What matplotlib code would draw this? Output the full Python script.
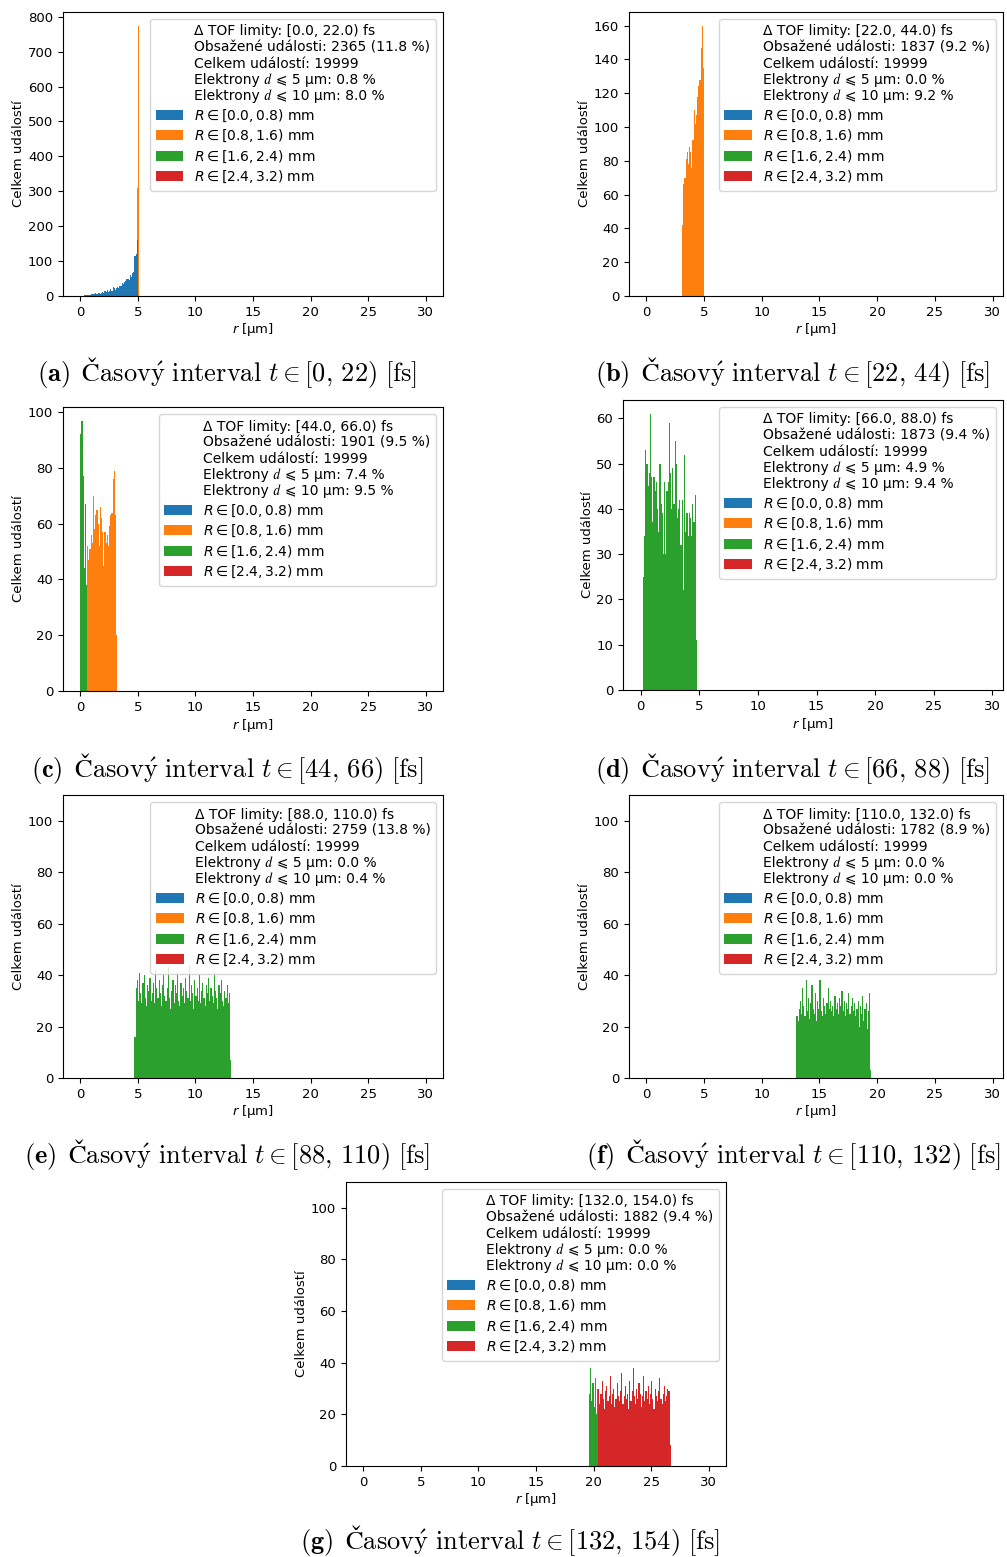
import numpy as np
import matplotlib.pyplot as plt
from matplotlib.patches import Patch

# tab10 colours for the four detector rings
ring_colors = ['#1f77b4', '#ff7f0e', '#2ca02c', '#d62728']
ring_labels = [r'$R \in [0.0, 0.8)$ mm', r'$R \in [0.8, 1.6)$ mm',
               r'$R \in [1.6, 2.4)$ mm', r'$R \in [2.4, 3.2)$ mm']

tof_lo = [0, 22, 44, 66, 88, 110, 132]
tof_hi = [22, 44, 66, 88, 110, 132, 154]
contained = [2365, 1837, 1901, 1873, 2759, 1782, 1882]
contained_pct = [11.8, 9.2, 9.5, 9.4, 13.8, 8.9, 9.4]
total_events = 19999
within_5um = [0.8, 0.0, 7.4, 4.9, 0.0, 0.0, 0.0]
within_10um = [8.0, 9.2, 9.5, 9.4, 0.4, 0.0, 0.0]
panel_tags = ['a', 'b', 'c', 'd', 'e', 'f', 'g']

# histogram counts in 0.1 um bins
a_blue_start = 0.2
a_blue = [1, 2, 2, 3, 3, 4, 4, 5, 6, 7, 7, 8, 6, 8, 9, 7, 10, 12,
          10, 14, 11, 18, 12, 15, 20, 14, 25, 22, 18, 24, 27, 22, 30,
          28, 36, 33, 40, 42, 48, 50, 45, 60, 55, 65, 70, 115, 120, 160]
a_orange_start = 4.9
a_orange = [310, 775]

b_orange_start = 3.1
b_orange = [42, 66, 70, 81, 85, 78, 88, 85, 76, 92, 110, 102, 107, 118,
            124, 128, 147, 160, 135]

c_green_start = 0.0
c_green = [92, 97, 77, 44, 67, 38]
c_orange_start = 0.6
c_orange = [52, 47, 51, 56, 53, 70, 58, 63, 65, 60, 52, 66, 62, 57, 45,
            57, 53, 56, 52, 59, 63, 64, 76, 79, 63, 20]

d_green_start = 0.2
d_green = [25, 34, 53, 50, 45, 48, 61, 47, 37, 47, 44, 46, 40, 35, 50, 41,
           39, 30, 46, 30, 44, 46, 59, 48, 40, 49, 41, 55, 50, 38, 40, 42,
           32, 42, 22, 52, 35, 39, 34, 39, 38, 34, 41, 37, 43, 11]

e_green_start = 4.7
e_green = [16, 35, 38, 30, 41, 33, 29, 37, 40, 31, 28, 36, 34, 39, 30, 33, 37, 29, 42, 35,
           31, 38, 33, 28, 36, 40, 32, 30, 35, 43, 31, 27, 34, 38, 29, 36, 33, 41, 30, 28,
           37, 32, 35, 29, 39, 34, 31, 44, 30, 36, 33, 27, 38, 32, 35, 30, 40, 29, 34, 37,
           31, 28, 36, 33, 39, 30, 35, 32, 29, 41, 34, 31, 27, 36, 33, 38, 30, 28, 34, 31,
           36, 29, 33, 7]

f_green_start = 13.0
f_green = [24, 22, 27, 30, 25, 35, 28, 24, 38, 26, 31, 23, 29, 36, 27, 25, 33, 22, 30, 27,
           38, 26, 24, 31, 28, 25, 29, 35, 27, 30, 26, 28, 24, 32, 27, 29, 25, 31, 28, 34,
           26, 30, 24, 29, 27, 33, 25, 28, 31, 26, 29, 24, 27, 30, 20, 28, 25, 32, 22, 27,
           29, 19, 26, 33, 3]

g_green_start = 19.6
g_green = [28, 38, 25, 32, 23, 34, 20, 30]
g_red_start = 20.4
g_red = [30, 24, 28, 33, 26, 22, 29, 31, 25, 27, 35, 24, 28, 30, 23, 26, 32, 27, 25, 29,
         36, 24, 27, 31, 26, 28, 22, 33, 25, 29, 38, 27, 24, 30, 26, 32, 28, 23, 27, 35,
         25, 29, 26, 31, 24, 28, 33, 26, 22, 30, 27, 25, 29, 34, 26, 24, 28, 31, 25, 27,
         30, 29, 8]

# per panel: list of (ring, first bin edge, counts), fixed ylim top or None
panels = [
    ([(1, a_orange_start, a_orange), (0, a_blue_start, a_blue)], None),
    ([(1, b_orange_start, b_orange)], None),
    ([(2, c_green_start, c_green), (1, c_orange_start, c_orange)], None),
    ([(2, d_green_start, d_green)], None),
    ([(2, e_green_start, e_green)], 110),
    ([(2, f_green_start, f_green)], 110),
    ([(2, g_green_start, g_green), (3, g_red_start, g_red)], 110),
]
BIN = 0.1

W, H = 1007, 1557
# axes boxes in pixels: left, right, top, bottom
boxes = [(63, 443, 12, 296), (629, 1003, 12, 296),
         (63, 443, 407, 691), (623, 1003, 400, 690),
         (63, 443, 795, 1078), (629, 1003, 795, 1078),
         (346, 726, 1182, 1466)]
xlims = [(-1.5, 31.5), (-1.5, 30.9), (-1.5, 31.5), (-1.5, 30.9),
         (-1.5, 31.5), (-1.5, 30.9), (-1.5, 31.5)]
captions_xy = [(227, 373), (793, 373), (227, 768), (793, 768),
               (227, 1155), (793, 1155), (510, 1540)]

fs = 9.5
leg_prop = {'family': ['DejaVu Sans', 'STIXGeneral'], 'size': 10}
plt.rcParams['font.size'] = fs

fig = plt.figure(figsize=(W / 100, H / 100), dpi=100)

for i, (series, ytop) in enumerate(panels):
    l, r, t, b = boxes[i]
    ax = fig.add_axes([l / W, 1 - b / H, (r - l) / W, (b - t) / H])
    for ring, start, counts in series:
        edges = start + BIN * np.arange(len(counts))
        ax.bar(edges, counts, width=BIN, align='edge', color=ring_colors[ring],
               linewidth=0)
    ax.set_xlim(*xlims[i])
    if ytop is not None:
        ax.set_ylim(0, ytop)
    ax.set_xticks([0, 5, 10, 15, 20, 25, 30])
    ax.tick_params(labelsize=fs)
    ax.set_xlabel(r'$r$ [µm]', fontsize=fs, labelpad=2)
    ax.set_ylabel('Celkem událostí', fontsize=fs, labelpad=2)

    # plain text header (italic d as a unicode math letter keeps line spacing even)
    header = (f'Δ TOF limity: [{tof_lo[i]:.1f}, {tof_hi[i]:.1f}) fs\n'
              f'Obsažené události: {contained[i]} ({contained_pct[i]} %)\n'
              f'Celkem událostí: {total_events}\n'
              f'Elektrony \U0001D451 ⩽ 5 µm: {within_5um[i]} %\n'
              f'Elektrony \U0001D451 ⩽ 10 µm: {within_10um[i]} %')
    handles = [Patch(facecolor='none', edgecolor='none')]
    handles += [Patch(facecolor=c) for c in ring_colors]
    ax.legend(handles, [header] + ring_labels, loc='upper right', prop=leg_prop,
              labelspacing=0.3)

    lo, hi = tof_lo[i], tof_hi[i]
    cap = (r'$\mathbf{(' + panel_tags[i] + r')}\ \,\mathrm{Časov\acute{y}\ interval}'
           r'\ t \in [' + f'{lo},\\,{hi}' + r')\ [\mathrm{fs}]$')
    cx, cy = captions_xy[i]
    fig.text(cx / W, 1 - cy / H, cap, ha='center', va='center', fontsize=19,
             math_fontfamily='cm')

fig.savefig('out.png', dpi=100)
